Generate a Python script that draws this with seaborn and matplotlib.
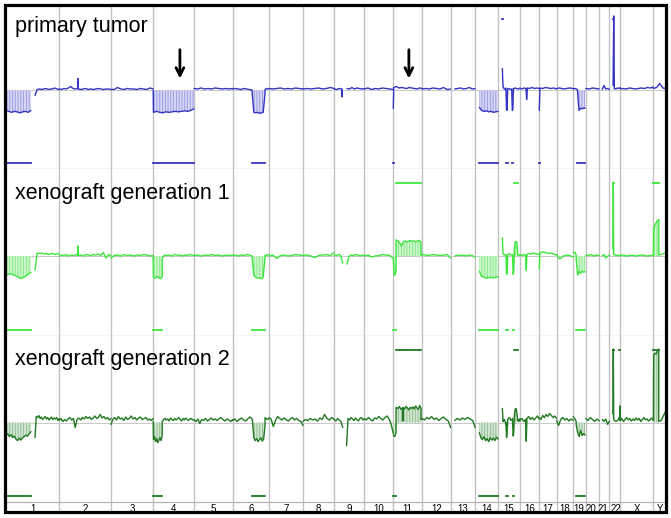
import numpy as np
import pandas as pd
import seaborn as sns
import matplotlib.pyplot as plt
from matplotlib.patches import Rectangle
from matplotlib.transforms import offset_copy

CHROMS = [str(i) for i in range(1, 23)] + ['X', 'Y']
CHROM_MB = [249, 243, 198, 191, 181, 171, 159, 146, 141, 136, 135, 134,
            115, 107, 103, 90, 81, 78, 59, 63, 48, 51, 155, 59]

SAMPLES = ['primary tumor', 'xenograft generation 1', 'xenograft generation 2']

# (chromosome, start Mb, end Mb, called, log2 ratios spread over the segment)
primary_segments = [
    ('1', 0, 117, True, [-0.40, -0.42, -0.44, -0.42, -0.43, -0.45, -0.43, -0.42, -0.44, -0.40]),
    ('1', 136, 249, False, [-0.10, 0.02, 0.03, 0.02, 0.03, 0.04, 0.02, 0.03, 0.03, 0.05, 0.03, 0.02]),
    ('2', 0, 87, False, [0.03, 0.02, 0.04, 0.03, 0.05, 0.08, 0.04, 0.03, 0.04]),
    ('2', 87, 89, False, [0.05, 0.24, 0.04]),
    ('2', 89, 243, False, [0.03, 0.02, 0.03, 0.04, 0.02, 0.03, 0.02, 0.03, 0.04, 0.03, 0.02, 0.03, 0.03, 0.02]),
    ('3', 0, 198, False, [0.02, 0.02, 0.06, 0.03, 0.02, 0.04, 0.03, 0.03, 0.02, 0.04, 0.03, 0.02, 0.05, 0.03]),
    ('4', 0, 1, True, [0.0, -0.44]),
    ('4', 1, 191, True, [-0.44, -0.42, -0.44, -0.45, -0.43, -0.44, -0.43, -0.42, -0.43, -0.42, -0.41, -0.42, -0.40, -0.37]),
    ('5', 0, 181, False, [0.04, 0.03, 0.05, 0.03, 0.04, 0.03, 0.05, 0.04, 0.03, 0.04, 0.03, 0.04]),
    ('6', 0, 91, False, [0.03, 0.04, 0.03, 0.02, 0.04, 0.03, 0.02, 0.01]),
    ('6', 91, 152, True, [-0.02, -0.44, -0.45, -0.44, -0.46, -0.45, -0.44, -0.05]),
    ('6', 152, 171, False, [0.02, 0.04, 0.03, 0.04]),
    ('7', 0, 159, False, [0.04, 0.03, 0.04, 0.05, 0.03, 0.04, 0.03, 0.05, 0.04, 0.03]),
    ('8', 0, 146, False, [0.03, 0.04, 0.03, 0.04, 0.05, 0.03, 0.04, 0.06, 0.04]),
    ('9', 0, 36, False, [0.03, 0.02, 0.04, 0.03]),
    ('9', 36, 38, False, [0.02, -0.13, 0.0]),
    ('9', 60, 141, False, [0.04, 0.03, 0.06, 0.03, 0.05, 0.04, 0.03, 0.04]),
    ('10', 0, 136, False, [0.03, 0.05, 0.02, 0.04, 0.03, 0.05, 0.04, 0.03, 0.02]),
    ('11', 0, 2, True, [-0.36, 0.05]),
    ('11', 2, 135, False, [0.06, 0.08, 0.05, 0.06, 0.05, 0.04, 0.06, 0.05, 0.04, 0.03, 0.05, 0.04]),
    ('12', 0, 134, False, [0.03, 0.04, 0.03, 0.05, 0.04, 0.03, 0.06, 0.02, 0.03]),
    ('13', 19, 115, False, [0.03, 0.04, 0.05, 0.03, 0.04, 0.06, 0.03, 0.04]),
    ('14', 19, 107, True, [-0.34, -0.40, -0.42, -0.41, -0.43, -0.42, -0.44, -0.43, -0.42]),
    ('15', 20, 23, True, [0.44, 0.10]),
    ('15', 23, 37, False, [0.08, 0.04, 0.02, 0.05]),
    ('15', 37, 45, True, [0.03, -0.38, -0.40, 0.03]),
    ('15', 45, 64, False, [0.03, 0.04, 0.02, 0.03]),
    ('15', 64, 72, True, [0.02, -0.40, -0.38, 0.04]),
    ('15', 72, 103, False, [0.03, 0.05, 0.04, 0.03, 0.05]),
    ('16', 0, 28, False, [0.04, 0.03, 0.05, 0.04]),
    ('16', 28, 34, False, [0.03, -0.18, 0.02]),
    ('16', 34, 90, False, [0.05, 0.04, 0.06, 0.04, 0.05, 0.04]),
    ('17', 0, 3, True, [-0.40, 0.04]),
    ('17', 3, 81, False, [0.05, 0.04, 0.06, 0.05, 0.04, 0.05, 0.03]),
    ('18', 0, 78, False, [0.04, 0.05, 0.03, 0.04, 0.05, 0.04]),
    ('19', 0, 20, False, [0.03, 0.04, 0.02]),
    ('19', 20, 56, True, [0.0, -0.40, -0.36, -0.37, -0.35, -0.36]),
    ('20', 0, 63, False, [0.04, 0.03, 0.05, 0.04, 0.03]),
    ('21', 14, 48, False, [0.02, 0.10, 0.03, 0.04, 0.02]),
    ('22', 17, 23, True, [0.10, 1.50, 0.05]),
    ('22', 23, 51, False, [0.04, 0.03, 0.05, 0.04, 0.06]),
    ('X', 0, 155, False, [0.03, 0.04, 0.03, 0.05, 0.04, 0.03, 0.04, 0.05, 0.04, 0.06, 0.05, 0.07]),
    ('Y', 0, 59, False, [0.04, 0.06, 0.14, 0.05, 0.04]),
]

xeno1_segments = [
    ('1', 0, 117, True, [-0.38, -0.36, -0.35, -0.38, -0.40, -0.44, -0.43, -0.40, -0.36, -0.32]),
    ('1', 136, 249, False, [-0.28, 0.06, 0.05, 0.06, 0.04, 0.05, 0.03, 0.04, 0.05, 0.03, 0.04, 0.05]),
    ('2', 0, 87, False, [0.0, 0.02, 0.01, 0.03, 0.0, 0.02, 0.01, 0.02, 0.03]),
    ('2', 87, 89, False, [0.02, 0.20, 0.02]),
    ('2', 89, 243, False, [0.01, 0.02, 0.0, 0.03, 0.02, 0.01, 0.03, 0.02, 0.04, 0.01, 0.07, -0.04, 0.03, 0.01]),
    ('3', 0, 198, False, [-0.04, 0.01, 0.02, 0.0, 0.03, 0.01, 0.02, 0.0, 0.02, 0.01, 0.03, 0.02, 0.0, 0.01]),
    ('4', 0, 1, True, [0.0, -0.40]),
    ('4', 1, 42, True, [-0.42, -0.44, -0.40, -0.43, -0.45, -0.41]),
    ('4', 42, 191, False, [-0.05, 0.02, 0.01, 0.02, 0.0, 0.02, 0.03, 0.01, 0.02, 0.0, 0.02, 0.01, 0.03, 0.02, 0.01]),
    ('5', 0, 181, False, [0.01, 0.02, 0.0, 0.02, 0.01, 0.03, 0.01, 0.02, 0.0, 0.02, 0.01, 0.02]),
    ('6', 0, 91, False, [0.01, 0.02, 0.0, 0.02, 0.01, 0.03, 0.02, 0.0]),
    ('6', 91, 152, True, [-0.02, -0.38, -0.42, -0.44, -0.43, -0.45, -0.42, -0.02]),
    ('6', 152, 171, False, [0.02, 0.01, 0.03, 0.02]),
    ('7', 0, 159, False, [0.0, 0.02, -0.05, 0.01, 0.02, 0.0, 0.01, 0.03, 0.02, 0.01]),
    ('8', 0, 146, False, [0.01, 0.02, 0.0, -0.03, 0.01, 0.02, 0.03, 0.01, 0.07]),
    ('9', 0, 40, False, [0.02, 0.01, 0.03, 0.02, -0.14]),
    ('9', 60, 141, False, [-0.16, 0.0, 0.02, 0.01, 0.03, 0.02, 0.0, 0.02, 0.01]),
    ('10', 0, 136, False, [0.0, 0.02, -0.02, 0.0, 0.01, 0.03, 0.02, 0.01, -0.04]),
    ('11', 0, 13, True, [-0.05, -0.38, -0.36, -0.30]),
    ('11', 13, 130, True, [0.32, 0.30, 0.26, 0.20, 0.28, 0.30, 0.28, 0.29, 0.31, 0.29, 0.30, 0.28, 0.30, 0.31, 0.27]),
    ('11', 130, 135, False, [0.02, 0.01]),
    ('12', 0, 134, False, [0.03, 0.02, 0.01, 0.03, 0.02, 0.01, 0.02, 0.03, -0.04]),
    ('13', 19, 115, False, [0.0, 0.02, 0.01, 0.02, 0.0, 0.02, 0.01, -0.03]),
    ('14', 19, 107, True, [-0.30, -0.40, -0.42, -0.44, -0.43, -0.42, -0.43, -0.42, -0.41]),
    ('15', 20, 23, False, [0.36, 0.06]),
    ('15', 23, 37, False, [0.04, 0.02, 0.03]),
    ('15', 37, 45, True, [0.02, -0.36, -0.34, 0.02]),
    ('15', 45, 68, False, [0.02, 0.05, 0.02, 0.03]),
    ('15', 68, 76, True, [0.02, -0.36, -0.30, 0.04]),
    ('15', 76, 92, True, [0.10, 0.28, 0.29, 0.27, 0.05]),
    ('15', 92, 103, False, [0.02, 0.01, 0.03]),
    ('16', 0, 26, False, [0.02, 0.01, 0.03, 0.0]),
    ('16', 26, 32, False, [0.02, -0.28, 0.02]),
    ('16', 32, 90, False, [0.03, 0.05, 0.04, 0.06, 0.05, 0.04, 0.03]),
    ('17', 0, 3, False, [-0.26, 0.04]),
    ('17', 3, 81, False, [0.06, 0.08, 0.07, 0.05, 0.06, 0.04, 0.02]),
    ('18', 0, 78, False, [0.03, -0.06, 0.0, 0.02, 0.01, -0.02]),
    ('19', 0, 14, False, [0.06, 0.08, 0.02]),
    ('19', 14, 56, True, [-0.05, -0.38, -0.30, -0.34, -0.30, -0.32, -0.31]),
    ('20', 0, 63, False, [0.02, 0.01, 0.03, 0.0, 0.02, 0.01]),
    ('21', 14, 48, False, [0.01, 0.03, -0.04, 0.0, 0.02]),
    ('22', 16, 20, True, [0.14, 1.46, 0.10]),
    ('22', 20, 51, False, [0.04, 0.02, 0.01, 0.02, 0.0, 0.02]),
    ('X', 0, 155, False, [0.01, 0.02, 0.0, 0.01, 0.02, 0.0, 0.01, 0.02, 0.01, 0.0, 0.01, 0.02]),
    ('Y', 0, 1, True, [0.0, 0.45]),
    ('Y', 1, 25, True, [0.50, 0.62, 0.66, 0.70, 0.72]),
    ('Y', 25, 59, False, [0.02, 0.03, 0.05, 0.07]),
]

xeno2_segments = [
    ('1', 0, 117, True, [-0.26, -0.22, -0.28, -0.24, -0.30, -0.27, -0.33, -0.36, -0.31, -0.35,
                         -0.30, -0.28, -0.25, -0.27, -0.22, -0.18]),
    ('1', 136, 249, False, [-0.30, 0.12, 0.10, 0.14, 0.08, 0.11, 0.06, 0.09, 0.12, 0.07, 0.10,
                            0.05, 0.08, 0.11, 0.06, 0.09, 0.07, 0.10, 0.04, 0.08]),
    ('2', 0, 243, False, [0.04, 0.08, 0.02, 0.06, 0.03, 0.07, 0.10, 0.05, 0.08, -0.10, 0.06, 0.09,
                          0.05, 0.10, 0.07, 0.12, 0.08, 0.11, 0.06, 0.09, 0.13, 0.08, 0.10, 0.16,
                          0.09, 0.12, 0.07, 0.10, 0.05, 0.08]),
    ('3', 0, 198, False, [-0.04, 0.06, 0.10, 0.05, 0.12, 0.07, 0.09, 0.04, 0.11, 0.06, 0.08, 0.13,
                          0.07, 0.10, 0.05, 0.09, 0.11, 0.06, 0.08, 0.10, 0.05, 0.07, 0.04, 0.08]),
    ('4', 0, 1, True, [0.02, -0.30]),
    ('4', 1, 42, True, [-0.34, -0.28, -0.38, -0.32, -0.40, -0.35, -0.30, -0.36, -0.26]),
    ('4', 42, 191, False, [0.02, 0.06, 0.08, 0.05, 0.07, 0.03, 0.09, 0.06, 0.04, 0.08, 0.05, 0.07,
                           0.10, 0.06, 0.03, 0.08, 0.05, 0.09, 0.06, 0.04, 0.07, 0.08, 0.05, 0.06]),
    ('5', 0, 181, False, [0.05, 0.02, 0.07, -0.02, 0.06, 0.04, 0.08, 0.03, 0.06, 0.09, 0.05, 0.07,
                          0.04, 0.08, 0.10, 0.06, 0.03, 0.07, 0.05, 0.02, 0.06]),
    ('6', 0, 93, False, [0.04, 0.07, 0.02, 0.06, 0.09, 0.05, 0.03, 0.08, 0.11, 0.06]),
    ('6', 93, 152, True, [0.02, -0.30, -0.36, -0.32, -0.38, -0.34, -0.30, -0.37, -0.33, -0.05]),
    ('6', 152, 171, False, [0.10, 0.06, 0.08]),
    ('7', 0, 159, False, [0.10, 0.06, -0.08, 0.04, 0.12, 0.08, 0.05, 0.09, 0.06, 0.03, 0.07, 0.10,
                          0.05, 0.08, 0.04, 0.02, -0.06]),
    ('8', 0, 146, False, [0.02, 0.06, 0.04, 0.08, 0.05, 0.07, 0.03, 0.09, 0.06, 0.16, 0.08, 0.05,
                          0.10, 0.06]),
    ('9', 0, 40, False, [0.06, 0.03, 0.08, 0.05, 0.02, -0.10]),
    ('9', 58, 141, False, [-0.46, 0.08, 0.05, 0.10, 0.07, 0.04, 0.09, 0.06, 0.03, 0.08, 0.10, 0.05, 0.07]),
    ('10', 0, 136, False, [0.08, 0.05, 0.10, 0.06, 0.03, 0.09, 0.07, 0.12, 0.08, 0.05, 0.10, 0.13,
                           0.07, -0.04, -0.22]),
    ('11', 0, 13, True, [-0.25, -0.28, -0.20]),
    ('11', 13, 44, True, [0.30, 0.28, 0.32, 0.26, 0.29]),
    ('11', 44, 47, False, [0.28, 0.03, 0.26]),
    ('11', 47, 130, True, [0.30, 0.27, 0.32, 0.29, 0.25, 0.30, 0.28, 0.31, 0.27, 0.33, 0.29, 0.26,
                           0.34, 0.28]),
    ('11', 130, 135, False, [0.06, 0.08]),
    ('12', 0, 134, False, [0.08, 0.05, 0.10, 0.07, 0.12, 0.06, 0.09, 0.04, 0.08, 0.11, 0.06, 0.03, -0.10]),
    ('13', 19, 115, False, [0.04, 0.08, 0.05, 0.09, 0.06, 0.10, 0.07, 0.04, -0.10]),
    ('14', 19, 107, True, [-0.20, -0.30, -0.34, -0.28, -0.36, -0.32, -0.38, -0.30, -0.35, -0.31,
                           -0.36, -0.29, -0.33]),
    ('15', 20, 23, False, [0.28, 0.05]),
    ('15', 23, 37, False, [0.02, 0.06, -0.04]),
    ('15', 37, 45, True, [0.0, -0.30, -0.22, 0.03]),
    ('15', 45, 68, False, [0.06, 0.10, 0.04, 0.08]),
    ('15', 68, 76, True, [0.02, -0.27, -0.20, 0.05]),
    ('15', 76, 92, True, [0.12, 0.26, 0.28, 0.20, 0.04]),
    ('15', 92, 103, False, [0.06, 0.02, 0.08]),
    ('16', 0, 26, False, [0.04, 0.08, 0.02, 0.06]),
    ('16', 26, 32, False, [0.02, -0.37, 0.04]),
    ('16', 32, 90, False, [0.08, 0.12, 0.06, 0.10, 0.05, 0.09, 0.13, 0.07]),
    ('17', 0, 81, False, [0.10, 0.06, 0.14, 0.10, 0.16, 0.12, 0.18, 0.14, 0.10, 0.13, 0.08]),
    ('18', 0, 78, False, [0.04, -0.06, 0.06, 0.10, 0.05, 0.08, 0.03, 0.07, 0.04]),
    ('19', 0, 14, False, [0.12, 0.08, 0.02]),
    ('19', 14, 56, True, [-0.04, -0.20, -0.28, -0.16, -0.26, -0.22, -0.25]),
    ('20', 0, 63, False, [0.08, 0.04, 0.10, 0.06, 0.02, 0.07, 0.03]),
    ('21', 14, 48, False, [0.06, 0.02, 0.07, -0.04, 0.03]),
    ('22', 16, 20, True, [0.16, 1.46, 0.08]),
    ('22', 20, 47, False, [0.06, 0.02, 0.04, 0.10]),
    ('22', 47, 51, True, [0.05, 0.33, 0.04]),
    ('X', 0, 155, False, [0.04, 0.08, 0.02, 0.06, 0.10, 0.05, 0.08, 0.03, 0.07, 0.04, 0.09, 0.05,
                          0.08, 0.02, 0.06, 0.10, 0.05, 0.07, 0.03, 0.06, 0.09, 0.04]),
    ('Y', 0, 1, True, [0.04, 1.30]),
    ('Y', 1, 25, True, [1.34, 1.38, 1.36, 1.44, 1.46]),
    ('Y', 25, 59, False, [0.02, 0.04, 0.14, 0.24]),
]

# arrows in the primary tumor panel: (chromosome, position Mb)
ARROWS = [('4', 125), ('11', 73)]

LINE_COLORS = ['#3434c2', '#3de63d', '#217a21']
FILL_COLORS = ['#d6d6f5', '#cdf7cd', '#d3e6d3']
HATCH_COLORS = ['#9595e2', '#7fe87f', '#86b886']

# small pixel nudges so the crowded labels of the short chromosomes don't collide
LABEL_NUDGE = {'19': -0.5, '20': -1.5, '21': -1.5, '22': 1.5}

sns.set_style('white')
plt.rcParams['font.family'] = ['Liberation Sans', 'DejaVu Sans']
plt.rcParams['hatch.linewidth'] = 0.6

starts = np.concatenate([[0], np.cumsum(CHROM_MB)[:-1]])
offset = dict(zip(CHROMS, starts))
centers = starts + np.array(CHROM_MB) / 2
total = sum(CHROM_MB)


def to_frame(segments):
    rows = []
    track = -1
    prev = None
    for seg_id, (chrom, start, end, called, vals) in enumerate(segments):
        if prev != (chrom, start):
            track += 1
        xs = offset[chrom] + np.linspace(start, end, len(vals))
        for x, v in zip(xs, vals):
            rows.append((x, v, track, seg_id, called))
        prev = (chrom, end)
    return pd.DataFrame(rows, columns=['pos', 'log2', 'track', 'seg', 'called'])


W, H = 671, 518
fig = plt.figure(figsize=(W / 100, H / 100), dpi=100)
panels = [(5, 169), (169, 336), (336, 502)]  # pixel top / bottom
title_y = [0.835, 0.82, 0.825]

for i, (segments, name) in enumerate(zip([primary_segments, xeno1_segments, xeno2_segments], SAMPLES)):
    top, bottom = panels[i]
    ax = fig.add_axes([6 / W, (H - bottom) / H, 660 / W, (bottom - top) / H])
    df = to_frame(segments)

    last = i == 2
    for b in starts[1:]:
        ax.axvline(b, color='#c2c2c2', lw=1.0, zorder=0,
                   ymin=-10 / (bottom - top) if last else 0, clip_on=not last)
    ax.axhline(0, color='#c8c8c8', lw=0.7, zorder=0)

    for seg, g in df[df['called']].groupby('seg'):
        ax.fill_between(g['pos'], 0, g['log2'], facecolor=FILL_COLORS[i],
                        edgecolor=HATCH_COLORS[i], hatch='||||||', lw=0, zorder=1)
        y = -1.46 if g['log2'].mean() < 0 else 1.44
        ax.hlines(y, g['pos'].min(), g['pos'].max(), color=LINE_COLORS[i],
                  lw=1.3, capstyle='projecting', zorder=2)

    sns.lineplot(data=df, x='pos', y='log2', units='track', estimator=None, sort=False,
                 color=LINE_COLORS[i], lw=1.0, ax=ax, zorder=3)

    ax.set_xlim(0, total)
    ax.set_ylim(-1.58, 1.72)
    ax.set_xlabel('')
    ax.set_ylabel('')
    ax.set_yticks([])
    ax.set_xticks([])
    for s in ['top', 'left', 'right']:
        ax.spines[s].set_visible(False)
    ax.spines['bottom'].set_color('#b4b4b4')
    ax.spines['bottom'].set_linewidth(0.9)

    ax.text(0.0136, title_y[i], name, transform=ax.transAxes, fontsize=15.5,
            ha='left', va='baseline', color='black')

    if i == 0:
        for chrom, pos in ARROWS:
            x = offset[chrom] + pos
            ax.annotate('', xy=(x, 0.24), xytext=(x, 0.82),
                        arrowprops=dict(arrowstyle='->', lw=2.0, color='black',
                                        mutation_scale=14, shrinkA=0, shrinkB=0))
    if last:
        for chrom, c in zip(CHROMS, centers):
            tr = offset_copy(ax.get_xaxis_transform(), fig=fig,
                             x=LABEL_NUDGE.get(chrom, 0), y=-1.5, units='dots')
            ax.text(c, 0, chrom, transform=tr, fontsize=7, ha='center', va='top',
                    color='black')

fig.add_artist(Rectangle((5 / W, (H - 512) / H), 661 / W, 507 / H, transform=fig.transFigure,
                         fill=False, lw=2.3, edgecolor='black'))

fig.savefig('out.png', dpi=100)
